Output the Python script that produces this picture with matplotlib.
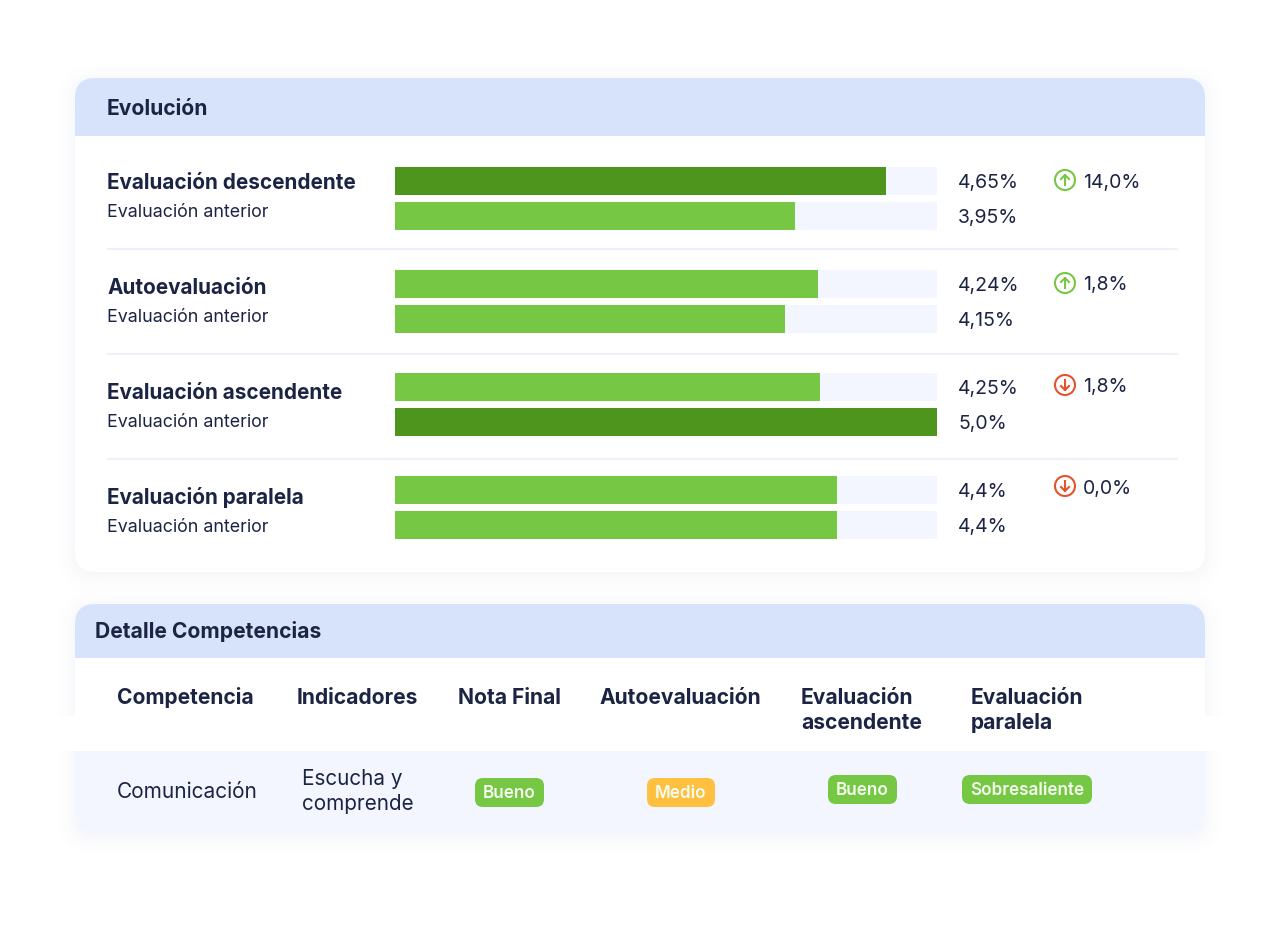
import matplotlib
matplotlib.use("Agg")
import matplotlib.pyplot as plt
import numpy as np
from matplotlib.colors import to_rgb
from matplotlib.patches import Circle, FancyBboxPatch, Rectangle

plt.rcParams["font.family"] = ["Inter", "DejaVu Sans"]

INK = "#1C2444"
GREEN = "#76C844"
DARK_GREEN = "#4E951E"
ORANGE = "#FFBF3F"
RED = "#E5532D"
HEADER = "#D7E3FB"
TRACK = "#F3F6FE"
LINE = "#EEF1FA"

# Evolucion panel
evaluations = ["Evaluación descendente", "Autoevaluación", "Evaluación ascendente", "Evaluación paralela"]
previous_label = "Evaluación anterior"
current_labels = ["4,65%", "4,24%", "4,25%", "4,4%"]
previous_labels = ["3,95%", "4,15%", "5,0%", "4,4%"]
# bar lengths as % of the track, they do not follow the printed labels exactly
current_fill = [90.6, 78.0, 78.4, 81.5]
previous_fill = [73.8, 72.0, 100.0, 81.5]
current_dark = [True, False, False, False]
previous_dark = [False, False, True, False]
changes = ["14,0%", "1,8%", "1,8%", "0,0%"]
change_up = [True, True, False, False]

# Detalle panel
columns = ["Competencia", "Indicadores", "Nota Final", "Autoevaluación", "Evaluación\nascendente", "Evaluación\nparalela"]
competencia = "Comunicación"
indicador = "Escucha y\ncomprende"
badges = ["Bueno", "Medio", "Bueno", "Sobresaliente"]
badge_colors = [GREEN, ORANGE, GREEN, GREEN]

# layout, pixels
bar_tops = [167, 270, 373, 476]
label_base = [189, 294, 399, 504]
value_base = [188, 291, 394, 497]
change_base = [188, 290, 392, 494]
icon_y = [180, 283, 385, 486]
divider_y = [249, 354, 459]
col_x = [117, 297, 458, 600, 801, 971]
badge_boxes = [(475, 778, 69), (647, 778, 68), (828, 775, 69), (962, 775, 130)]


def rounded(ax, x0, y0, x1, y1, r, **kw):
    p = FancyBboxPatch((x0 + r, y0 + r), x1 - x0 - 2 * r, y1 - y0 - 2 * r,
                       boxstyle=f"round,pad={r},rounding_size={r}", linewidth=0, **kw)
    ax.add_patch(p)
    return p


def blur(a, sigma=10):
    t = np.arange(-30, 31)
    k = np.exp(-t ** 2 / (2 * sigma ** 2))
    k /= k.sum()
    a = np.apply_along_axis(lambda v: np.convolve(v, k, mode="same"), 0, a)
    return np.apply_along_axis(lambda v: np.convolve(v, k, mode="same"), 1, a)


def draw_shadow(ax):
    # soft card shadow as one blurred image
    mask = np.zeros((950, 1280))
    mask[81:575, 75:1205] = 1
    mask[607:836, 75:1205] = 1
    alpha = blur(mask) * 0.09
    # the second card has no shadow beside the gap above its row
    alpha[716:751, :75] = 0
    alpha[716:751, 1205:] = 0
    img = np.zeros((950, 1280, 4))
    img[..., :3] = to_rgb("#5A6A9A")
    img[..., 3] = alpha
    ax.imshow(img, extent=(0, 1280, 950, 0), aspect="auto", zorder=1, interpolation="nearest")
    ax.set_xlim(0, 1280)
    ax.set_ylim(950, 0)


fig = plt.figure(figsize=(12.8, 9.5), dpi=100, facecolor="white")
bg = fig.add_axes([0, 0, 1, 1])
bg.set_xlim(0, 1280)
bg.set_ylim(950, 0)
bg.axis("off")
draw_shadow(bg)

# cards
card1 = rounded(bg, 75, 78, 1205, 572, 20, facecolor="white", zorder=2)
h1 = Rectangle((75, 78), 1130, 58, facecolor=HEADER, linewidth=0, zorder=3)
bg.add_patch(h1)
h1.set_clip_path(card1)

card2 = rounded(bg, 75, 604, 1205, 833, 20, facecolor="white", zorder=2)
h2 = Rectangle((75, 604), 1130, 54, facecolor=HEADER, linewidth=0, zorder=3)
bg.add_patch(h2)
h2.set_clip_path(card2)
row = Rectangle((75, 751), 1130, 82, facecolor=TRACK, linewidth=0, zorder=3)
bg.add_patch(row)
row.set_clip_path(card2)

bg.text(107, 115, "Evolución", fontsize=15.15, fontweight="bold", color=INK, va="baseline", zorder=5)
bg.text(95, 638, "Detalle Competencias", fontsize=15.15, fontweight="bold", color=INK, va="baseline", zorder=5)

for y in divider_y:
    bg.plot([107, 1178], [y, y], color=LINE, lw=1.5, zorder=3, solid_capstyle="butt")

# bars go in their own axes, x is % of the track
ax = fig.add_axes([395 / 1280, 1 - 539 / 950, 542 / 1280, (539 - 167) / 950])
ax.set_xlim(0, 100)
ax.set_ylim(539, 167)
ax.axis("off")
ax.patch.set_alpha(0)
ax.set_zorder(3)

for i, name in enumerate(evaluations):
    top = bar_tops[i]
    c_mid, p_mid = top + 14, top + 49
    ax.barh([c_mid, p_mid], [100, 100], height=28, color=TRACK, linewidth=0)
    ax.barh(c_mid, current_fill[i], height=28, linewidth=0,
            color=DARK_GREEN if current_dark[i] else GREEN)
    ax.barh(p_mid, previous_fill[i], height=28, linewidth=0,
            color=DARK_GREEN if previous_dark[i] else GREEN)

    bg.text(107, label_base[i], name, fontsize=14.9, fontweight="bold", color=INK, va="baseline", zorder=5)
    bg.text(107, label_base[i] + 28, previous_label, fontsize=12.85, color=INK, va="baseline", zorder=5)
    bg.text(958, value_base[i], current_labels[i], fontsize=14, color=INK, va="baseline", zorder=5)
    bg.text(958, value_base[i] + 35, previous_labels[i], fontsize=14, color=INK, va="baseline", zorder=5)
    bg.text(1083, change_base[i], changes[i], fontsize=14, color=INK, va="baseline", zorder=5)

    col = GREEN if change_up[i] else RED
    cy = icon_y[i]
    bg.add_patch(Circle((1065, cy), 10, facecolor="white", edgecolor=col, lw=1.5, zorder=5))
    d = -1 if change_up[i] else 1
    bg.plot([1065, 1065], [cy - 5 * d, cy + 5 * d], color=col, lw=1.5, zorder=6)
    bg.plot([1061, 1065, 1069], [cy + d, cy + 5 * d, cy + d], color=col, lw=1.5, zorder=6)

# table
for x, c in zip(col_x, columns):
    lines = c.split("\n")
    for k, t in enumerate(lines):
        bg.text(x, 704 + k * 25, t, fontsize=15.1, fontweight="bold", color=INK, va="baseline", zorder=5)

bg.text(col_x[0], 798, competencia, fontsize=15, color=INK, va="baseline", zorder=5)
for k, t in enumerate(indicador.split("\n")):
    bg.text(302, 785 + k * 25, t, fontsize=14.9, color=INK, va="baseline", zorder=5)

for (x, y, w), t, c in zip(badge_boxes, badges, badge_colors):
    rounded(bg, x, y, x + w, y + 29, 8, facecolor=c, zorder=5)
    bg.text(x + w / 2, y + 20, t, fontsize=12.3, fontweight="semibold", color="#F4FBEF",
            ha="center", va="baseline", zorder=6)

fig.savefig("out.png", dpi=100, facecolor="white")
